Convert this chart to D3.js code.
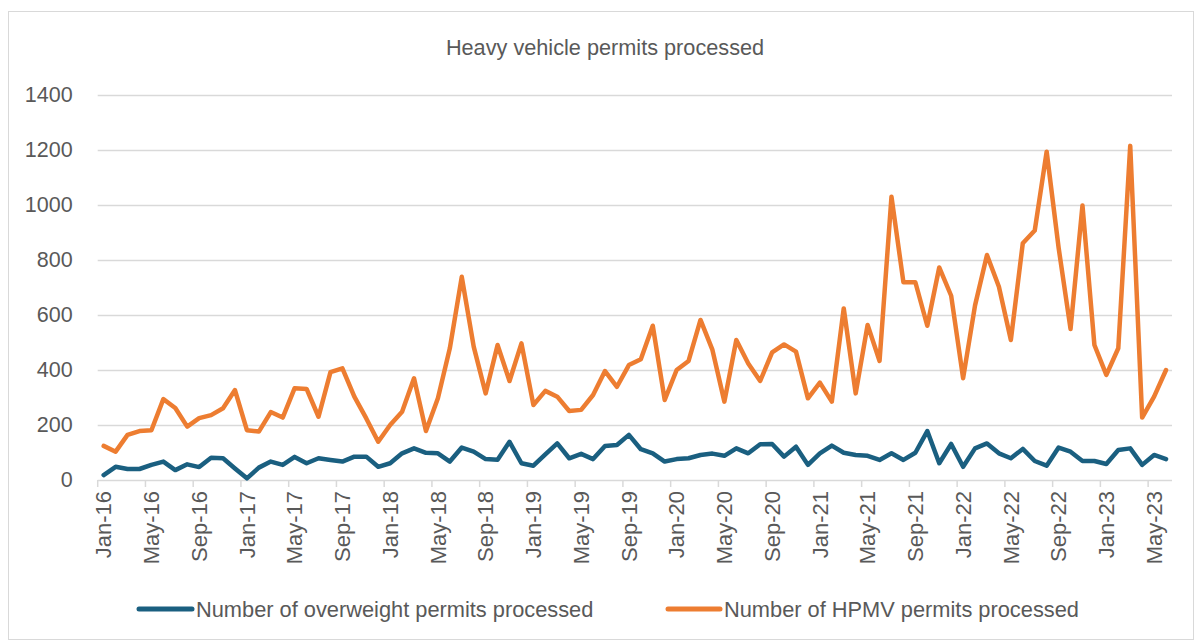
<!DOCTYPE html>
<html>
<head>
<meta charset="utf-8">
<script src="https://cdn.jsdelivr.net/npm/d3@7"></script>
<style>
  html, body { margin: 0; padding: 0; background: #fff; }
  svg { display: block; font-family: "Liberation Sans", Arial, sans-serif; }
</style>
</head>
<body>
<svg id="chart" width="1195" height="641"></svg>
<script>
// ---- data ----
const months = [
  "Jan-16","Feb-16","Mar-16","Apr-16","May-16","Jun-16","Jul-16","Aug-16","Sep-16","Oct-16","Nov-16","Dec-16",
  "Jan-17","Feb-17","Mar-17","Apr-17","May-17","Jun-17","Jul-17","Aug-17","Sep-17","Oct-17","Nov-17","Dec-17",
  "Jan-18","Feb-18","Mar-18","Apr-18","May-18","Jun-18","Jul-18","Aug-18","Sep-18","Oct-18","Nov-18","Dec-18",
  "Jan-19","Feb-19","Mar-19","Apr-19","May-19","Jun-19","Jul-19","Aug-19","Sep-19","Oct-19","Nov-19","Dec-19",
  "Jan-20","Feb-20","Mar-20","Apr-20","May-20","Jun-20","Jul-20","Aug-20","Sep-20","Oct-20","Nov-20","Dec-20",
  "Jan-21","Feb-21","Mar-21","Apr-21","May-21","Jun-21","Jul-21","Aug-21","Sep-21","Oct-21","Nov-21","Dec-21",
  "Jan-22","Feb-22","Mar-22","Apr-22","May-22","Jun-22","Jul-22","Aug-22","Sep-22","Oct-22","Nov-22","Dec-22",
  "Jan-23","Feb-23","Mar-23","Apr-23","May-23","Jun-23"
];
const overweight = [
  18,48,40,40,55,67,36,57,47,81,79,42,
  6,45,67,55,84,61,79,73,67,85,85,48,
  61,97,115,99,97,67,118,103,76,74,139,61,
  52,93,133,79,95,76,124,127,164,112,97,67,
  76,79,91,96,88,115,97,130,131,85,121,55,
  97,125,99,91,88,73,97,73,99,178,61,131,
  48,115,133,97,79,113,69,52,118,103,69,69,
  58,109,115,55,91,76
];
const hpmv = [
  124,103,164,178,181,294,262,194,225,236,261,327,
  181,176,247,227,334,331,230,392,406,303,224,139,
  200,248,370,178,297,479,739,485,315,491,360,497,
  273,324,303,251,255,309,396,339,418,439,561,291,
  400,433,582,473,285,509,424,360,464,493,467,297,
  354,285,624,315,564,433,1030,719,719,561,773,670,
  370,635,818,703,509,861,907,1194,845,549,998,491,
  382,479,1215,227,303,400
];
const xTickLabels = ["Jan-16","May-16","Sep-16","Jan-17","May-17","Sep-17","Jan-18","May-18","Sep-18",
  "Jan-19","May-19","Sep-19","Jan-20","May-20","Sep-20","Jan-21","May-21","Sep-21",
  "Jan-22","May-22","Sep-22","Jan-23","May-23"];
const yTicks = [0,200,400,600,800,1000,1200,1400];
const seriesNames = ["Number of overweight permits processed", "Number of HPMV permits processed"];
const colors = ["#1a5f80", "#ed7d31"];

// ---- layout ----
const svg = d3.select("#chart");
const plotL = 97.7, plotR = 1172, plotT = 95, plotB = 480;
const textColor = "#595959", gridColor = "#d9d9d9";

svg.append("rect").attr("x", 8.5).attr("y", 11.5).attr("width", 1185).attr("height", 628)
  .attr("fill", "#fff").attr("stroke", "#d9d9d9").attr("stroke-width", 1);

const x = d3.scaleBand().domain(months).range([plotL, plotR]).padding(0);
const y = d3.scaleLinear().domain([0, 1400]).range([plotB, plotT]);
const bw = x.bandwidth();

// title
svg.append("text").attr("x", 605).attr("y", 55).attr("text-anchor", "middle")
  .attr("font-size", 21.7).attr("fill", textColor).text("Heavy vehicle permits processed");

// y axis gridlines & labels
const yAxis = d3.axisLeft(y).tickValues(yTicks).tickSize(-(plotR - plotL)).tickPadding(25).tickFormat(d3.format("d"));
const gy = svg.append("g").attr("transform", `translate(${plotL},0)`).call(yAxis);
gy.select(".domain").remove();
gy.selectAll(".tick line").attr("stroke", gridColor).attr("stroke-width", 1.5);
gy.selectAll(".tick text").attr("fill", textColor).attr("font-size", 21.5)
  .attr("font-family", "'Liberation Sans', Arial, sans-serif");

// x axis ticks & labels
const gx = svg.append("g");
gx.selectAll("line.xt").data(xTickLabels).enter().append("line")
  .attr("x1", d => x(d)).attr("x2", d => x(d))
  .attr("y1", plotB).attr("y2", plotB + 7)
  .attr("stroke", gridColor).attr("stroke-width", 1.5);
gx.selectAll("text.xl").data(xTickLabels).enter().append("text")
  .attr("transform", d => `translate(${x(d) + bw / 2},${plotB + 11}) rotate(-90)`)
  .attr("text-anchor", "end").attr("dy", "0.35em")
  .attr("font-size", 22).attr("fill", textColor).text(d => d);

// lines
const line = d3.line().x((d, i) => x(months[i]) + bw / 2).y(d => y(d));
[overweight, hpmv].forEach((s, k) => {
  svg.append("path").datum(s).attr("d", line)
    .attr("fill", "none").attr("stroke", colors[k]).attr("stroke-width", 4.5)
    .attr("stroke-linejoin", "round").attr("stroke-linecap", "round");
});

// legend
const legendItems = [{x1: 139, x2: 192, tx: 196}, {x1: 668, x2: 720, tx: 724}];
legendItems.forEach((p, k) => {
  svg.append("line").attr("x1", p.x1).attr("x2", p.x2).attr("y1", 609).attr("y2", 609)
    .attr("stroke", colors[k]).attr("stroke-width", 5).attr("stroke-linecap", "round");
  svg.append("text").attr("x", p.tx).attr("y", 609).attr("dy", "0.35em")
    .attr("font-size", 21.8).attr("fill", textColor).text(seriesNames[k]);
});
</script>
</body>
</html>
